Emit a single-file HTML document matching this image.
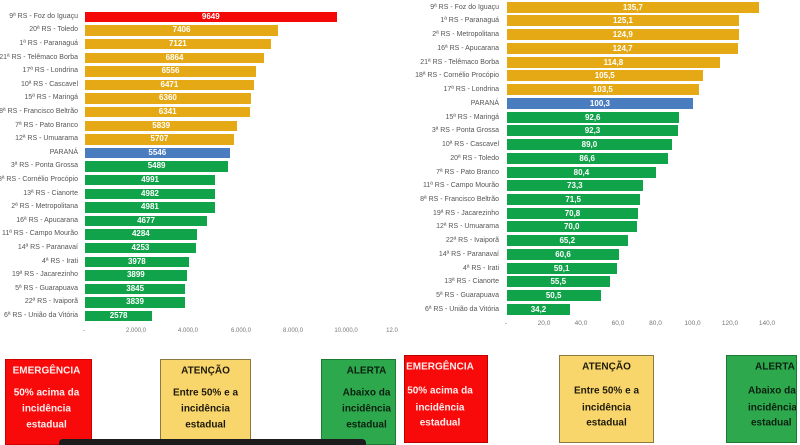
<!DOCTYPE html>
<html><head><meta charset="utf-8">
<style>
*{margin:0;padding:0;box-sizing:border-box}
html,body{width:800px;height:445px;overflow:hidden;background:#fff}
body{position:relative;font-family:"Liberation Sans",sans-serif}
.b{position:absolute;color:#fff;font-weight:bold;font-size:8px;text-align:center;white-space:nowrap}
.y{background:#E6A916}.r{background:#F40808}.u{background:#4A7DC0}.g{background:#10A34A}
.l{position:absolute;font-size:7px;color:#555;text-align:right;white-space:nowrap;width:100px}
.t{position:absolute;font-size:6px;color:#777;white-space:nowrap;transform:translateX(-50%)}
.bx{position:absolute;font-weight:bold;font-size:10px;text-align:center;white-space:nowrap}
.bx div{position:absolute;left:0;right:0;transform:translateY(-50%)}
</style></head><body>

<!-- LEFT CHART -->
<div class="b r" style="left:85px;top:11.7px;width:251.6px;height:10.5px;line-height:10.5px">9649</div>
<div class="b y" style="left:85px;top:25.3px;width:193.1px;height:10.5px;line-height:10.5px">7406</div>
<div class="b y" style="left:85px;top:38.9px;width:185.7px;height:10.5px;line-height:10.5px">7121</div>
<div class="b y" style="left:85px;top:52.5px;width:179px;height:10.5px;line-height:10.5px">6864</div>
<div class="b y" style="left:85px;top:66.1px;width:171px;height:10.5px;line-height:10.5px">6556</div>
<div class="b y" style="left:85px;top:79.7px;width:168.8px;height:10.5px;line-height:10.5px">6471</div>
<div class="b y" style="left:85px;top:93.3px;width:165.9px;height:10.5px;line-height:10.5px">6360</div>
<div class="b y" style="left:85px;top:106.9px;width:165.4px;height:10.5px;line-height:10.5px">6341</div>
<div class="b y" style="left:85px;top:120.5px;width:152.3px;height:10.5px;line-height:10.5px">5839</div>
<div class="b y" style="left:85px;top:134.1px;width:148.8px;height:10.5px;line-height:10.5px">5707</div>
<div class="b u" style="left:85px;top:147.7px;width:144.6px;height:10.5px;line-height:10.5px">5546</div>
<div class="b g" style="left:85px;top:161.3px;width:143.2px;height:10.5px;line-height:10.5px">5489</div>
<div class="b g" style="left:85px;top:174.9px;width:130.2px;height:10.5px;line-height:10.5px">4991</div>
<div class="b g" style="left:85px;top:188.5px;width:129.9px;height:10.5px;line-height:10.5px">4982</div>
<div class="b g" style="left:85px;top:202.1px;width:129.9px;height:10.5px;line-height:10.5px">4981</div>
<div class="b g" style="left:85px;top:215.7px;width:122px;height:10.5px;line-height:10.5px">4677</div>
<div class="b g" style="left:85px;top:229.3px;width:111.7px;height:10.5px;line-height:10.5px">4284</div>
<div class="b g" style="left:85px;top:242.9px;width:110.9px;height:10.5px;line-height:10.5px">4253</div>
<div class="b g" style="left:85px;top:256.5px;width:103.7px;height:10.5px;line-height:10.5px">3978</div>
<div class="b g" style="left:85px;top:270.1px;width:101.7px;height:10.5px;line-height:10.5px">3899</div>
<div class="b g" style="left:85px;top:283.7px;width:100.3px;height:10.5px;line-height:10.5px">3845</div>
<div class="b g" style="left:85px;top:297.3px;width:100.1px;height:10.5px;line-height:10.5px">3839</div>
<div class="b g" style="left:85px;top:310.9px;width:67.2px;height:10.5px;line-height:10.5px">2578</div>

<div class="l" style="left:-22px;top:11.7px;line-height:10.5px">9ª RS - Foz do Iguaçu</div>
<div class="l" style="left:-22px;top:25.3px;line-height:10.5px">20ª RS - Toledo</div>
<div class="l" style="left:-22px;top:38.9px;line-height:10.5px">1ª RS - Paranaguá</div>
<div class="l" style="left:-22px;top:52.5px;line-height:10.5px">21ª RS - Telêmaco Borba</div>
<div class="l" style="left:-22px;top:66.1px;line-height:10.5px">17ª RS - Londrina</div>
<div class="l" style="left:-22px;top:79.7px;line-height:10.5px">10ª RS - Cascavel</div>
<div class="l" style="left:-22px;top:93.3px;line-height:10.5px">15ª RS - Maringá</div>
<div class="l" style="left:-22px;top:106.9px;line-height:10.5px">8ª RS - Francisco Beltrão</div>
<div class="l" style="left:-22px;top:120.5px;line-height:10.5px">7ª RS - Pato Branco</div>
<div class="l" style="left:-22px;top:134.1px;line-height:10.5px">12ª RS - Umuarama</div>
<div class="l" style="left:-22px;top:147.7px;line-height:10.5px">PARANÁ</div>
<div class="l" style="left:-22px;top:161.3px;line-height:10.5px">3ª RS - Ponta Grossa</div>
<div class="l" style="left:-22px;top:174.9px;line-height:10.5px">18ª RS - Cornélio Procópio</div>
<div class="l" style="left:-22px;top:188.5px;line-height:10.5px">13ª RS - Cianorte</div>
<div class="l" style="left:-22px;top:202.1px;line-height:10.5px">2ª RS - Metropolitana</div>
<div class="l" style="left:-22px;top:215.7px;line-height:10.5px">16ª RS - Apucarana</div>
<div class="l" style="left:-22px;top:229.3px;line-height:10.5px">11ª RS - Campo Mourão</div>
<div class="l" style="left:-22px;top:242.9px;line-height:10.5px">14ª RS - Paranavaí</div>
<div class="l" style="left:-22px;top:256.5px;line-height:10.5px">4ª RS - Irati</div>
<div class="l" style="left:-22px;top:270.1px;line-height:10.5px">19ª RS - Jacarezinho</div>
<div class="l" style="left:-22px;top:283.7px;line-height:10.5px">5ª RS - Guarapuava</div>
<div class="l" style="left:-22px;top:297.3px;line-height:10.5px">22ª RS - Ivaiporã</div>
<div class="l" style="left:-22px;top:310.9px;line-height:10.5px">6ª RS - União da Vitória</div>

<div class="t" style="left:84px;top:328px">-</div>
<div class="t" style="left:136px;top:328px">2.000,0</div>
<div class="t" style="left:188px;top:328px">4.000,0</div>
<div class="t" style="left:241px;top:328px">6.000,0</div>
<div class="t" style="left:293px;top:328px">8.000,0</div>
<div class="t" style="left:346px;top:328px">10.000,0</div>
<div class="t" style="left:392px;top:328px">12.0</div>

<!-- RIGHT CHART -->
<div class="b y" style="left:506.7px;top:1.7px;width:252.3px;height:11px;line-height:11px">135,7</div>
<div class="b y" style="left:506.7px;top:15.4px;width:232.6px;height:11px;line-height:11px">125,1</div>
<div class="b y" style="left:506.7px;top:29.2px;width:232.2px;height:11px;line-height:11px">124,9</div>
<div class="b y" style="left:506.7px;top:42.9px;width:231.8px;height:11px;line-height:11px">124,7</div>
<div class="b y" style="left:506.7px;top:56.6px;width:213.4px;height:11px;line-height:11px">114,8</div>
<div class="b y" style="left:506.7px;top:70.4px;width:196.1px;height:11px;line-height:11px">105,5</div>
<div class="b y" style="left:506.7px;top:84.1px;width:192.4px;height:11px;line-height:11px">103,5</div>
<div class="b u" style="left:506.7px;top:97.8px;width:186.5px;height:11px;line-height:11px">100,3</div>
<div class="b g" style="left:506.7px;top:111.5px;width:172.1px;height:11px;line-height:11px">92,6</div>
<div class="b g" style="left:506.7px;top:125.3px;width:171.6px;height:11px;line-height:11px">92,3</div>
<div class="b g" style="left:506.7px;top:139px;width:165.5px;height:11px;line-height:11px">89,0</div>
<div class="b g" style="left:506.7px;top:152.7px;width:161px;height:11px;line-height:11px">86,6</div>
<div class="b g" style="left:506.7px;top:166.5px;width:149.5px;height:11px;line-height:11px">80,4</div>
<div class="b g" style="left:506.7px;top:180.2px;width:136.3px;height:11px;line-height:11px">73,3</div>
<div class="b g" style="left:506.7px;top:193.9px;width:132.9px;height:11px;line-height:11px">71,5</div>
<div class="b g" style="left:506.7px;top:207.7px;width:131.6px;height:11px;line-height:11px">70,8</div>
<div class="b g" style="left:506.7px;top:221.4px;width:130.1px;height:11px;line-height:11px">70,0</div>
<div class="b g" style="left:506.7px;top:235.1px;width:121.2px;height:11px;line-height:11px">65,2</div>
<div class="b g" style="left:506.7px;top:248.8px;width:112.7px;height:11px;line-height:11px">60,6</div>
<div class="b g" style="left:506.7px;top:262.6px;width:109.9px;height:11px;line-height:11px">59,1</div>
<div class="b g" style="left:506.7px;top:276.3px;width:103.2px;height:11px;line-height:11px">55,5</div>
<div class="b g" style="left:506.7px;top:290px;width:93.9px;height:11px;line-height:11px">50,5</div>
<div class="b g" style="left:506.7px;top:303.8px;width:63.6px;height:11px;line-height:11px">34,2</div>

<div class="l" style="left:399px;top:1.7px;line-height:11px">9ª RS - Foz do Iguaçu</div>
<div class="l" style="left:399px;top:15.4px;line-height:11px">1ª RS - Paranaguá</div>
<div class="l" style="left:399px;top:29.2px;line-height:11px">2ª RS - Metropolitana</div>
<div class="l" style="left:399px;top:42.9px;line-height:11px">16ª RS - Apucarana</div>
<div class="l" style="left:399px;top:56.6px;line-height:11px">21ª RS - Telêmaco Borba</div>
<div class="l" style="left:399px;top:70.4px;line-height:11px">18ª RS - Cornélio Procópio</div>
<div class="l" style="left:399px;top:84.1px;line-height:11px">17ª RS - Londrina</div>
<div class="l" style="left:399px;top:97.8px;line-height:11px">PARANÁ</div>
<div class="l" style="left:399px;top:111.5px;line-height:11px">15ª RS - Maringá</div>
<div class="l" style="left:399px;top:125.3px;line-height:11px">3ª RS - Ponta Grossa</div>
<div class="l" style="left:399px;top:139px;line-height:11px">10ª RS - Cascavel</div>
<div class="l" style="left:399px;top:152.7px;line-height:11px">20ª RS - Toledo</div>
<div class="l" style="left:399px;top:166.5px;line-height:11px">7ª RS - Pato Branco</div>
<div class="l" style="left:399px;top:180.2px;line-height:11px">11ª RS - Campo Mourão</div>
<div class="l" style="left:399px;top:193.9px;line-height:11px">8ª RS - Francisco Beltrão</div>
<div class="l" style="left:399px;top:207.7px;line-height:11px">19ª RS - Jacarezinho</div>
<div class="l" style="left:399px;top:221.4px;line-height:11px">12ª RS - Umuarama</div>
<div class="l" style="left:399px;top:235.1px;line-height:11px">22ª RS - Ivaiporã</div>
<div class="l" style="left:399px;top:248.8px;line-height:11px">14ª RS - Paranavaí</div>
<div class="l" style="left:399px;top:262.6px;line-height:11px">4ª RS - Irati</div>
<div class="l" style="left:399px;top:276.3px;line-height:11px">13ª RS - Cianorte</div>
<div class="l" style="left:399px;top:290px;line-height:11px">5ª RS - Guarapuava</div>
<div class="l" style="left:399px;top:303.8px;line-height:11px">6ª RS - União da Vitória</div>

<div class="t" style="left:506px;top:320px;font-size:6.5px">-</div>
<div class="t" style="left:544px;top:320px;font-size:6.5px">20,0</div>
<div class="t" style="left:581px;top:320px;font-size:6.5px">40,0</div>
<div class="t" style="left:618px;top:320px;font-size:6.5px">60,0</div>
<div class="t" style="left:655.5px;top:320px;font-size:6.5px">80,0</div>
<div class="t" style="left:692.5px;top:320px;font-size:6.5px">100,0</div>
<div class="t" style="left:730px;top:320px;font-size:6.5px">120,0</div>
<div class="t" style="left:767px;top:320px;font-size:6.5px">140,0</div>

<!-- LEFT BOXES -->
<div class="bx" style="left:5px;top:359px;width:87px;height:86px;background:#F80A0A;color:#FFEDED;border:1px solid #c00">
  <div style="top:11px;left:-4px">EMERGÊNCIA</div>
  <div style="top:33px;left:-4px">50% acima da</div>
  <div style="top:49px;left:-4px">incidência</div>
  <div style="top:65px;left:-4px">estadual</div>
</div>
<div class="bx" style="left:160px;top:359px;width:91px;height:86px;background:#F8D66C;color:#1f1a0a;border:1px solid #8a7a40">
  <div style="top:11px">ATENÇÃO</div>
  <div style="top:33px">Entre 50% e a</div>
  <div style="top:49px">incidência</div>
  <div style="top:65px">estadual</div>
</div>
<div class="bx" style="left:321px;top:359px;width:75px;height:86px;background:#2EA84C;color:#0a2010;border:1px solid #1d7a35">
  <div style="top:11px;left:14px;right:-2px">ALERTA</div>
  <div style="top:33px;left:14px;right:-2px">Abaixo da</div>
  <div style="top:49px;left:14px;right:-2px">incidência</div>
  <div style="top:65px;left:14px;right:-2px">estadual</div>
</div>
<div style="position:absolute;left:59px;top:438.5px;width:307px;height:8px;background:#1c1c1c;border-radius:4px 4px 0 0"></div>

<!-- RIGHT BOXES -->
<div class="bx" style="left:404px;top:355px;width:84px;height:88px;background:#F80A0A;color:#FFEDED;border:1px solid #b00">
  <div style="top:11px;left:-12px">EMERGÊNCIA</div>
  <div style="top:35px;left:-12px">50% acima da</div>
  <div style="top:51.5px;left:-12px">incidência</div>
  <div style="top:66.5px;left:-12px">estadual</div>
</div>
<div class="bx" style="left:559px;top:355px;width:95px;height:88px;background:#F8D66C;color:#1f1a0a;border:1px solid #8a7a40">
  <div style="top:11px">ATENÇÃO</div>
  <div style="top:35px">Entre 50% e a</div>
  <div style="top:51.5px">incidência</div>
  <div style="top:66.5px">estadual</div>
</div>
<div class="bx" style="left:726px;top:355px;width:71px;height:88px;background:#2EA84C;color:#0a2010;border:1px solid #1d7a35;overflow:hidden">
  <div style="top:11px;left:16px;right:-40px;text-align:left;padding-left:12px">ALERTA</div>
  <div style="top:35px;left:16px;right:-40px;text-align:left;padding-left:5px">Abaixo da</div>
  <div style="top:51.5px;left:16px;right:-40px;text-align:left;padding-left:5px">incidência</div>
  <div style="top:66.5px;left:16px;right:-40px;text-align:left;padding-left:8px">estadual</div>
</div>

</body></html>
